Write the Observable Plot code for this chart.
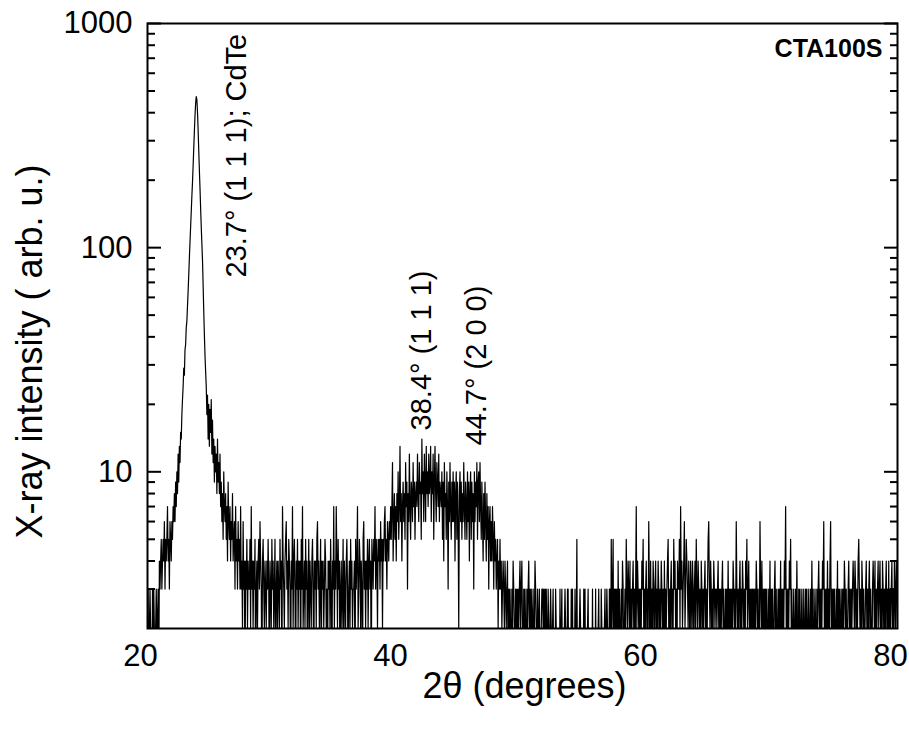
<!DOCTYPE html>
<html>
<head>
<meta charset="utf-8">
<script src="https://cdn.jsdelivr.net/npm/d3@7"></script>
<script src="https://cdn.jsdelivr.net/npm/@observablehq/plot@0.6"></script>
<style>
  html, body { margin: 0; padding: 0; background: #fff; }
</style>
</head>
<body>
<div id="chart"></div>
<script>
// XRD scan, 2θ step 0.05°, counts
const step = 0.05;

// 20.00° – 22.80°
const leftFlank = [
  2,3,1,2,3,2,2,1,3,2,3,2,1,2,3,2,2,3,1,4,
  3,4,5,3,4,5,4,6,3,5,4,5,7,4,5,3,6,5,4,6,
  5,7,6,8,6,9,7,10,8,12,9,13,11,15,14,18,21
];
// 22.85° – 24.70°
const cdTePeak = [
  24,29,27,35,37,44,47,55,64,76,
  90,106,124,145,170,196,232,278,330,388,
  440,472,458,402,335,272,222,184,150,124,
  104,88,68,52,41,33,28,24
];
// 24.75° – 27.45°
const rightFlank = [
  18,22,14,20,13,19,15,21,12,17,
  11,14,9,13,10,12,8,14,9,11,8,12,7,
  9,6,8,5,10,7,6,8,5,7,4,9,6,5,7,4,6,5,8,4,5,6,3,7,4,5,3,6,4,5,3,7
];
// 27.50° – 39.45°
const background1 = [
  3,4,2,6,3,4,1,4,3,5,2,4,3,3,5,2,7,3,4,2,
  4,3,5,1,3,4,2,4,5,3,6,4,3,1,4,5,3,2,4,3,
  2,4,3,5,3,1,4,3,2,5,3,4,2,3,5,1,3,4,2,4,
  3,2,5,3,4,1,7,4,3,2,4,5,6,3,4,2,5,4,3,1,
  4,3,7,2,4,5,3,1,4,3,5,2,4,3,4,1,5,3,7,2,
  3,4,2,5,3,4,1,3,5,2,4,3,2,4,5,3,1,4,3,4,
  2,5,6,3,4,2,3,5,1,4,3,4,2,3,5,4,2,3,1,4,
  3,4,2,5,3,1,4,3,7,2,4,3,7,4,2,5,3,4,1,3,
  4,2,3,5,1,4,3,2,4,5,3,1,3,4,2,5,3,4,2,3,
  3,4,1,5,3,4,7,2,3,5,4,2,4,3,1,5,6,3,4,2,
  4,3,5,2,4,5,3,4,1,5,4,3,5,4,7,3,5,4,2,5,
  4,5,3,6,4,5,2,5,4,6,7,4,5,3,6,5,4,6,5,7
];
// 39.50° – 48.45°
const hump = [
  5,7,11,4,6,8,5,7,4,8,6,10,5,7,13,6,8,4,7,9,
  6,8,5,11,7,9,3,8,6,12,7,5,9,8,6,11,7,9,5,8,
  9,7,12,8,6,11,8,9,5,14,8,10,6,12,9,6,13,8,10,7,
  12,8,9,13,6,10,8,12,5,9,13,8,6,11,9,7,12,6,9,8,
  7,10,5,9,4,11,7,8,5,10,7,3,9,6,11,7,5,9,6,10,
  6,9,4,8,10,5,9,6,2,8,10,6,9,5,8,6,11,7,5,9,
  7,5,10,6,9,4,8,10,5,9,6,8,3,10,6,9,7,11,5,9,
  10,6,11,7,5,9,6,4,8,5,9,6,4,8,5,7,3,6,7,4,
  6,4,7,5,3,6,4,5,3,4,5,2,4,3,5,3,4,2,3,4
];
// 48.50° – 80.00°
const background2 = [
  3,2,4,3,2,3,4,1,3,2,3,2,1,3,2,4,3,2,1,3,
  2,3,1,3,2,3,4,2,3,4,2,1,3,2,3,2,1,3,2,3,
  4,2,3,1,3,2,2,3,1,2,4,3,2,1,3,2,2,3,1,2,
  2,3,3,2,3,1,3,2,3,2,1,3,2,1,2,3,2,1,2,3,
  1,2,1,3,2,1,2,1,2,1,3,1,2,3,1,2,1,2,3,2,
  2,1,3,3,1,2,2,1,3,2,3,1,2,1,3,1,2,5,1,2,
  1,2,3,2,1,2,2,1,3,1,3,1,2,1,2,3,1,2,1,2,
  2,1,3,1,2,2,1,3,1,2,1,2,3,1,2,1,3,2,1,2,
  1,2,3,1,2,3,2,2,1,3,3,1,5,2,3,5,1,3,2,3,
  2,3,1,4,2,3,2,1,3,2,4,3,1,2,3,2,5,3,2,4,
  3,2,4,1,3,2,3,4,2,3,1,3,7,2,4,3,2,3,1,3,
  2,4,3,5,2,3,1,3,4,2,3,2,6,3,1,4,2,3,2,4,
  3,1,3,4,2,3,2,4,3,1,3,2,4,3,2,3,1,4,2,3,
  2,3,4,5,2,3,1,3,4,2,3,2,5,3,4,2,3,1,4,3,
  3,5,2,7,3,4,2,3,4,6,2,3,5,4,3,2,4,3,1,4,
  3,2,4,3,1,3,4,2,5,3,2,4,3,2,3,1,4,3,2,3,
  2,3,4,2,3,1,3,5,6,3,2,4,3,1,3,2,4,3,2,3,
  3,2,3,4,2,3,1,3,2,3,4,2,3,2,1,3,2,3,2,4,
  2,3,2,3,1,3,2,4,3,2,3,2,6,3,2,3,1,3,4,2,
  3,2,4,3,2,3,1,4,3,5,2,3,4,2,3,2,3,1,3,2,
  3,1,3,2,4,3,2,3,1,2,6,3,2,4,2,3,1,3,2,3,
  2,3,1,2,3,2,4,1,3,2,3,2,1,3,4,2,3,1,2,3,
  2,3,2,4,1,3,2,3,2,4,3,7,2,3,1,3,2,4,3,5,
  2,3,1,2,3,2,1,3,2,4,2,1,3,2,3,1,2,3,2,1,
  3,2,1,3,2,3,1,2,3,2,1,3,2,4,2,3,1,2,3,2,
  1,3,2,3,4,2,3,1,3,2,4,3,6,2,3,1,3,2,4,2,
  3,2,4,6,2,3,1,3,2,3,1,2,3,2,4,1,3,2,3,2,
  2,3,1,3,2,4,3,2,3,1,2,3,4,2,3,1,3,2,3,4,
  3,2,4,3,1,3,2,4,5,3,2,3,1,4,3,2,3,1,2,3,
  4,2,3,1,3,4,2,3,2,1,3,4,3,2,4,1,3,2,3,4,
  2,3,4,2,3,1,4,3,2,3,1,3,4,2,3,2,4,1,3,2,
  3,4,2,3,1,4,3,2,4,3,2
];

const regions = [
  [20.00, leftFlank],
  [22.85, cdTePeak],
  [24.75, rightFlank],
  [27.50, background1],
  [39.50, hump],
  [48.50, background2]
];

const scan = regions.flatMap(([start, vals]) =>
  vals.map((c, i) => ({angle: +(start + i * step).toFixed(3), count: c}))
);

const xTicks = [20, 40, 60, 80];
const yMajor = [10, 100, 1000];
const yMinor = [3,4,5,6,7,8,9,20,30,40,50,60,70,80,90,200,300,400,500,600,700,800,900];

const peakLabels = [
  {angle: 27.1, intensity: 73.6, label: "23.7° (1 1 1); CdTe"},
  {angle: 41.9, intensity: 15.3, label: "38.4° (1 1 1)"},
  {angle: 46.3, intensity: 13.1, label: "44.7° (2 0 0)"}
];

const sampleName = ["CTA100S"];
const xTitle = ["2θ (degrees)"];
const yTitle = ["X-ray intensity ( arb. u.)"];

const chart = Plot.plot({
  width: 909,
  height: 731,
  marginLeft: 147,
  marginRight: 12,
  marginTop: 23,
  marginBottom: 103,
  style: {fontFamily: "'Liberation Sans', Arial, Helvetica, sans-serif", background: "#fff", color: "#000"},
  x: {domain: [20, 80]},
  y: {type: "log", domain: [2, 1000]},
  marks: [
    Plot.line(scan, {x: "angle", y: "count", stroke: "#000", strokeWidth: 1.2, clip: true}),
    Plot.frame({stroke: "#000", strokeWidth: 2}),
    // inward ticks, left and right
    Plot.axisY({ticks: yMajor, tickSize: -14, tickFormat: () => "", strokeWidth: 2, label: null}),
    Plot.axisY({ticks: yMinor, tickSize: -8, tickFormat: () => "", strokeWidth: 2, label: null}),
    Plot.axisY({anchor: "right", ticks: yMajor, tickSize: -14, tickFormat: () => "", strokeWidth: 2, label: null}),
    Plot.axisY({anchor: "right", ticks: yMinor, tickSize: -8, tickFormat: () => "", strokeWidth: 2, label: null}),
    // tick labels
    Plot.axisY({ticks: yMajor, tickSize: 0, tickPadding: 15, fontSize: 31, tickFormat: d => String(d), label: null}),
    Plot.axisX({ticks: xTicks, tickSize: 0, tickPadding: 15, fontSize: 31, dx: -7, tickFormat: d => String(d), label: null}),
    // axis titles
    Plot.text(xTitle, {text: d => d, frameAnchor: "bottom", dx: 2, dy: 57.5, fontSize: 36, textAnchor: "middle", lineAnchor: "middle"}),
    Plot.text(yTitle, {text: d => d, frameAnchor: "left", dx: -117.5, dy: 25.5, rotate: -90, fontSize: 36, textAnchor: "middle", lineAnchor: "middle"}),
    // sample name
    Plot.text(sampleName, {text: d => d, frameAnchor: "top-right", dx: -15, dy: 16, textAnchor: "end", lineAnchor: "top", fontSize: 25, fontWeight: "bold"}),
    // peak annotations
    Plot.text(peakLabels, {x: "angle", y: "intensity", text: "label", rotate: -90, textAnchor: "start", lineAnchor: "middle", fontSize: 29})
  ]
});

document.getElementById("chart").appendChild(chart);
</script>
</body>
</html>
